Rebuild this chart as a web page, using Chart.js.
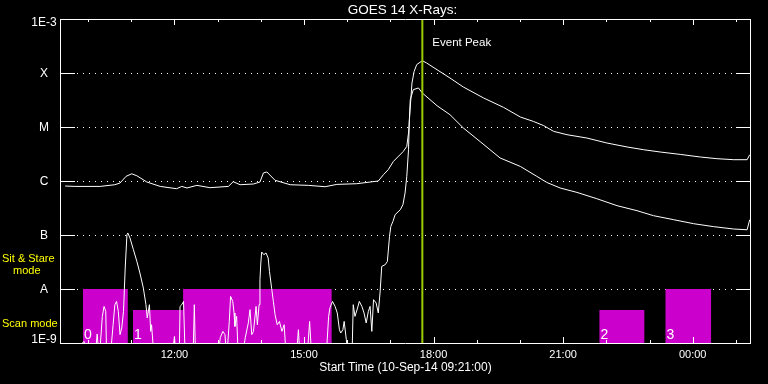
<!DOCTYPE html>
<html>
<head>
<meta charset="utf-8">
<title>GOES 14 X-Rays</title>
<script src="https://cdn.jsdelivr.net/npm/chart.js@4.4.0/dist/chart.umd.min.js"></script>
<style>
  html, body { margin: 0; padding: 0; background: #000; overflow: hidden; }
</style>
</head>
<body>
<canvas id="xrays" width="768" height="384"></canvas>
<script>
// time is decimal hours on 10-Sep-14 (values above 24 are the next day)
const startHour = 9.35;
const endHour = 25.35;

// long channel (1-8 A), W/m^2
const longTime = [9.47, 9.70, 10.28, 10.62, 10.74, 10.88, 11.01, 11.13, 11.36, 11.67,
  12.05, 12.17, 12.29, 12.52, 12.82, 13.25, 13.36, 13.52, 13.83, 13.98,
  14.06, 14.14, 14.33, 14.68, 15.10, 15.49, 15.76, 16.22, 16.72, 16.84,
  16.95, 17.07, 17.30, 17.38, 17.42, 17.44, 17.50, 17.55, 17.61, 17.74,
  17.84, 18.08, 18.38, 18.69, 19.16, 19.62, 20.01, 20.31, 20.55, 20.78,
  21.09, 21.55, 22.01, 22.48, 22.86, 23.25, 23.71, 24.18, 24.56, 24.95,
  25.26, 25.32];
const longFlux = [8.07e-7, 7.94e-7, 7.94e-7, 8.53e-7, 9.18e-7, 1.22e-6, 1.36e-6, 1.25e-6, 9.58e-7, 7.94e-7,
  7.20e-7, 7.94e-7, 7.42e-7, 8.30e-7, 7.52e-7, 7.94e-7, 9.71e-7, 8.53e-7, 8.80e-7, 9.58e-7,
  1.41e-6, 1.47e-6, 1.03e-6, 8.53e-7, 8.30e-7, 7.84e-7, 8.65e-7, 8.91e-7, 1.0e-6, 1.31e-6,
  1.62e-6, 2.31e-6, 3.53e-6, 4.38e-6, 7.74e-6, 1.36e-5, 6.53e-5, 1.07e-4, 1.43e-4, 1.69e-4,
  1.53e-4, 1.15e-4, 8.08e-5, 5.50e-5, 3.44e-5, 2.31e-5, 1.53e-5, 1.27e-5, 1.06e-5, 8.30e-6,
  7.20e-6, 6.25e-6, 5.06e-6, 4.27e-6, 3.80e-6, 3.44e-6, 3.11e-6, 2.78e-6, 2.59e-6, 2.48e-6,
  2.48e-6, 3.07e-6];

// short channel (0.5-4 A), W/m^2 (5e-10 = below the plot floor)
const shortTime = [9.44, 9.91, 9.95, 10.16, 10.21, 10.26, 10.33, 10.37, 10.41, 10.43,
  10.51, 10.58, 10.62, 10.66, 10.70, 10.74, 10.78, 10.82, 10.86, 10.90,
  10.92, 10.97, 11.05, 11.13, 11.20, 11.28, 11.34, 11.37, 11.42, 11.45,
  11.47, 11.53, 11.94, 12.00, 12.04, 12.11, 12.13, 12.17, 12.21, 12.25,
  12.43, 12.46, 12.49, 13.01, 13.06, 13.12, 13.17, 13.21, 13.27, 13.30,
  13.35, 13.38, 13.40, 13.44, 13.48, 13.56, 13.64, 13.71, 13.75, 13.79,
  13.83, 13.89, 13.92, 13.96, 13.98, 14.00, 14.02, 14.07, 14.12, 14.17,
  14.20, 14.25, 14.29, 14.33, 14.38, 14.43, 14.49, 14.54, 14.59, 14.82,
  14.87, 14.91, 15.07, 15.13, 15.18, 15.37, 15.51, 15.57, 15.60, 15.66,
  15.72, 15.77, 15.82, 15.85, 15.90, 15.93, 15.98, 16.03, 16.11, 16.14,
  16.18, 16.24, 16.28, 16.34, 16.39, 16.44, 16.49, 16.53, 16.57, 16.61,
  16.67, 16.72, 16.76, 16.80, 16.88, 16.93, 16.98, 17.01, 17.06, 17.11,
  17.23, 17.29, 17.34, 17.38, 17.42, 17.44, 17.46, 17.53, 17.65, 17.74,
  18.08, 18.38, 18.69, 19.08, 19.54, 20.01, 20.39, 20.62, 20.93, 21.32,
  21.78, 22.25, 22.71, 23.09, 23.56, 24.02, 24.48, 24.95, 25.26, 25.32];
const shortFlux = [5e-10, 1.07e-9, 5e-10, 5e-10, 1.47e-9, 5e-10, 3.11e-9, 4.76e-9, 3.85e-9, 5e-10,
  5e-10, 2.18e-9, 5.12e-9, 5.89e-9, 3.85e-9, 1.43e-9, 1.90e-9, 3.85e-9, 2.45e-8, 1.01e-7,
  1.09e-7, 8.80e-8, 5.35e-8, 3.24e-8, 1.98e-8, 1.04e-8, 5.12e-9, 2.90e-9, 5.12e-9, 1.64e-9,
  2.18e-9, 5e-10, 5e-10, 1.32e-9, 5e-10, 5e-10, 4.76e-9, 5.12e-9, 5.89e-9, 5e-10,
  5e-10, 5.12e-9, 5e-10, 5e-10, 1.25e-9, 1.64e-9, 1.43e-9, 5e-10, 2.51e-9, 7.29e-9,
  5.89e-9, 3.60e-9, 2.03e-9, 3.11e-9, 5e-10, 5e-10, 1.25e-9, 2.35e-9, 4.14e-9, 1.43e-9,
  1.64e-9, 4.76e-9, 2.18e-9, 5.12e-9, 1.49e-8, 3.03e-8, 4.84e-8, 4.32e-8, 4.65e-8, 3.75e-8,
  2.12e-8, 1.04e-8, 5.89e-9, 3.34e-9, 2.18e-9, 2.51e-9, 1.64e-9, 2.18e-9, 5e-10, 5e-10,
  1.76e-9, 5e-10, 5e-10, 2.51e-9, 5e-10, 5e-10, 5e-10, 3.11e-9, 4.45e-9, 5.89e-9,
  4.76e-9, 3.60e-9, 1.76e-9, 1.53e-9, 1.76e-9, 2.51e-9, 1.15e-9, 5e-10, 5e-10, 5.12e-9,
  3.11e-9, 4.45e-9, 5.89e-9, 4.76e-9, 3.60e-9, 2.35e-9, 3.85e-9, 4.76e-9, 1.64e-9, 6.34e-9,
  5.51e-9, 3.60e-9, 8.43e-9, 2.62e-8, 2.82e-8, 3.24e-8, 9.42e-8, 1.44e-7, 1.79e-7, 2.38e-7,
  2.94e-7, 3.64e-7, 6.00e-7, 1.22e-6, 3.80e-6, 1.36e-5, 3.20e-5, 4.91e-5, 5.28e-5, 4.26e-5,
  2.48e-5, 1.69e-5, 9.58e-6, 5.35e-6, 2.67e-6, 1.86e-6, 1.22e-6, 9.42e-7, 7.42e-7, 6.15e-7,
  4.70e-7, 3.49e-7, 2.82e-7, 2.28e-7, 1.92e-7, 1.62e-7, 1.43e-7, 1.29e-7, 1.25e-7, 1.92e-7];

// scan mode blocks
const scanStart = [9.88, 11.04, 12.20, 21.84, 23.37];
const scanEnd = [10.92, 12.20, 15.64, 22.88, 24.43];
const scanLevel = [1e-8, 4.1e-9, 1e-8, 4.1e-9, 1e-8];
const scanLabels = ['0', '1', '', '2', '3'];

const eventPeak = 17.74;

const yTickValues = [1e-3, 1e-4, 1e-5, 1e-6, 1e-7, 1e-8, 1e-9];
const yTickLabels = ['1E-3', 'X', 'M', 'C', 'B', 'A', '1E-9'];
const xMajorHours = [12, 15, 18, 21, 24];
const xMajorLabels = ['12:00', '15:00', '18:00', '21:00', '00:00'];

const floorFlux = 1e-9;

// outline of the scan blocks as one filled step line
const scanOutline = [];
scanStart.forEach((s, i) => {
  scanOutline.push({ x: s, y: floorFlux }, { x: s, y: scanLevel[i] },
    { x: scanEnd[i], y: scanLevel[i] }, { x: scanEnd[i], y: floorFlux });
});

const FONT = '"Liberation Sans", Arial, sans-serif';

const idlFrame = {
  id: 'idlFrame',
  beforeDraw(chart) {
    const ctx = chart.ctx;
    ctx.save();
    ctx.fillStyle = '#000';
    ctx.fillRect(0, 0, chart.width, chart.height);
    ctx.restore();
  },
  beforeDatasetsDraw(chart) {
    const { ctx, chartArea: a, scales: { y } } = chart;
    ctx.save();
    ctx.strokeStyle = '#fff';
    ctx.lineWidth = 1;
    ctx.setLineDash([1, 5]);
    yTickValues.slice(1, -1).forEach(v => {
      const py = Math.round(y.getPixelForValue(v)) + 0.5;
      ctx.beginPath();
      ctx.moveTo(a.left + 17, py);
      ctx.lineTo(a.right - 15, py);
      ctx.stroke();
    });
    ctx.restore();
  },
  afterDatasetsDraw(chart) {
    const { ctx, chartArea: a, scales: { x, y } } = chart;
    ctx.save();
    ctx.strokeStyle = '#fff';
    ctx.lineWidth = 1;

    // frame
    ctx.beginPath();
    ctx.moveTo(a.left + 0.5, a.top + 0.5);
    ctx.lineTo(a.right - 0.5, a.top + 0.5);
    ctx.lineTo(a.right - 0.5, a.bottom + 0.5);
    ctx.lineTo(a.left + 0.5, a.bottom + 0.5);
    ctx.closePath();
    ctx.stroke();

    // hour ticks, pointing in
    ctx.beginPath();
    for (let h = Math.ceil(startHour); h <= endHour; h++) {
      const px = Math.round(x.getPixelForValue(h)) + 0.5;
      const len = h % 3 === 0 ? 6 : 3;
      ctx.moveTo(px, a.top);
      ctx.lineTo(px, a.top + len);
      ctx.moveTo(px, a.bottom);
      ctx.lineTo(px, a.bottom - len);
    }
    // decade ticks
    yTickValues.forEach(v => {
      const py = Math.round(y.getPixelForValue(v)) + 0.5;
      ctx.moveTo(a.left, py);
      ctx.lineTo(a.left + 15, py);
      ctx.moveTo(a.right - 15, py);
      ctx.lineTo(a.right, py);
    });
    ctx.stroke();

    ctx.fillStyle = '#fff';
    ctx.textBaseline = 'middle';

    // y labels
    ctx.font = '12px ' + FONT;
    ctx.textAlign = 'center';
    yTickValues.forEach((v, i) => {
      const py = Math.min(Math.max(y.getPixelForValue(v) + 1, a.top + 4), a.bottom - 3);
      ctx.fillText(yTickLabels[i], 44, py);
    });

    // x labels
    ctx.font = '11px ' + FONT;
    xMajorHours.forEach((h, i) => {
      ctx.fillText(xMajorLabels[i], x.getPixelForValue(h), a.bottom + 12);
    });
    ctx.font = '12px ' + FONT;
    ctx.fillText('Start Time (10-Sep-14 09:21:00)', (a.left + a.right) / 2, a.bottom + 25);

    // title
    ctx.font = '13.5px ' + FONT;
    ctx.fillText('GOES 14 X-Rays:', (a.left + a.right) / 2 - 3, 10);

    // event peak label
    ctx.textAlign = 'left';
    ctx.font = '11.5px ' + FONT;
    ctx.fillText('Event Peak', x.getPixelForValue(eventPeak) + 10, 43);

    // scan block numbers
    ctx.font = '14px ' + FONT;
    ctx.textBaseline = 'alphabetic';
    scanStart.forEach((s, i) => {
      ctx.fillText(scanLabels[i], x.getPixelForValue(s) + 1, a.bottom - 4);
    });

    // mode labels
    ctx.fillStyle = '#ffff00';
    ctx.font = '11px ' + FONT;
    ctx.textBaseline = 'middle';
    ctx.fillText('Sit & Stare', 2, 259);
    ctx.fillText('mode', 13, 271);
    ctx.fillText('Scan mode', 2, 324);
    ctx.restore();
  }
};

const chart = new Chart(document.getElementById('xrays').getContext('2d'), {
  type: 'line',
  data: {
    datasets: [
      {
        label: 'Event Peak',
        data: [{ x: eventPeak, y: 1e-9 }, { x: eventPeak, y: 1e-3 }],
        borderColor: '#99cc00',
        borderWidth: 2,
        order: 0
      },
      {
        label: 'Long',
        data: longTime.map((t, i) => ({ x: t, y: longFlux[i] })),
        borderColor: '#ffffff',
        borderWidth: 1,
        order: 1
      },
      {
        label: 'Short',
        data: shortTime.map((t, i) => ({ x: t, y: shortFlux[i] })),
        borderColor: '#ffffff',
        borderWidth: 1,
        order: 2
      },
      {
        label: 'Scan mode',
        data: scanOutline,
        borderColor: 'rgba(0,0,0,0)',
        borderWidth: 1,
        backgroundColor: '#cc00cc',
        fill: 'start',
        order: 3
      }
    ]
  },
  options: {
    responsive: false,
    animation: false,
    devicePixelRatio: 1,
    layout: { padding: { left: 60, right: 17, top: 19, bottom: 41 } },
    elements: { point: { radius: 0 }, line: { tension: 0 } },
    plugins: { legend: { display: false }, tooltip: { enabled: false } },
    scales: {
      x: { type: 'linear', min: startHour, max: endHour, display: false },
      y: { type: 'logarithmic', min: 1e-9, max: 1e-3, display: false }
    }
  },
  plugins: [idlFrame]
});
</script>
</body>
</html>
